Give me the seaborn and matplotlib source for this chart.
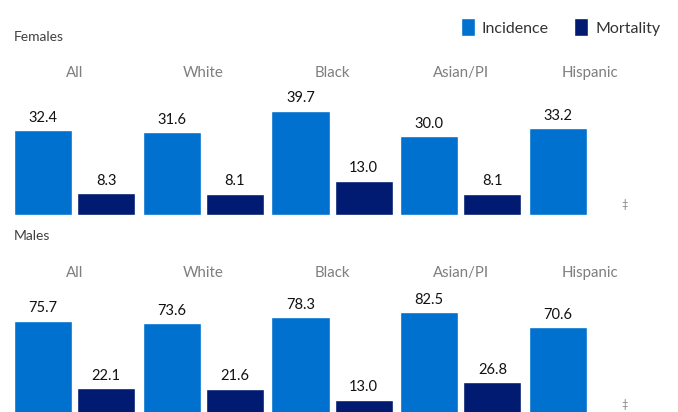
import pandas as pd
import seaborn as sns
import matplotlib.pyplot as plt
from matplotlib.patches import Patch
import numpy as np

# Rates per 100,000 by race/ethnicity
groups = ['All', 'White', 'Black', 'Asian/PI', 'Hispanic']
females_incidence = [32.4, 31.6, 39.7, 30.0, 33.2]
females_mortality = [8.3, 8.1, 13.0, 8.1, np.nan]
males_incidence = [75.7, 73.6, 78.3, 82.5, 70.6]
males_mortality = [22.1, 21.6, 13.0, 26.8, np.nan]
measures = ['Incidence', 'Mortality']

COLORS = {'Incidence': '#0071CE', 'Mortality': '#001B71'}
GRAY = '#7f7f7f'

sns.set_theme(style='white')
plt.rcParams['font.family'] = ['Lato', 'DejaVu Sans']


def make_df(inc, mort):
    return pd.DataFrame({
        'group': groups * 2,
        'measure': ['Incidence'] * len(groups) + ['Mortality'] * len(groups),
        'rate': list(inc) + list(mort),
    })


fig = plt.figure(figsize=(6.78, 4.12), dpi=100)

# [left, bottom, width, height] in figure fractions; ylim picked to match bar scale
panels = [
    ('Females', make_df(females_incidence, females_mortality), [0, 0.478, 1, 0.3155], 49.6, 0.91),
    ('Males', make_df(males_incidence, males_mortality), [0, -0.0097, 1, 0.318], 104, 0.427),
]

for title, df, rect, ymax, title_y in panels:
    ax = fig.add_axes(rect)
    sns.barplot(data=df, x='group', y='rate', hue='measure', order=groups,
                hue_order=measures, palette=COLORS, width=0.98, gap=0.08,
                legend=False, ax=ax, saturation=1)
    for c in ax.containers:
        ax.bar_label(c, fmt='%.1f', padding=4, fontsize=10.5, color='#111111')
    # suppressed value marker for Hispanic mortality
    ax.annotate('\u2021', xy=(4 + 0.98 / 4 + 0.03, 0), xytext=(0, 4),
                textcoords='offset points', ha='center', va='bottom',
                fontsize=8, color=GRAY)
    ax.set_xlim(-0.579, 4.687)
    ax.set_ylim(0, ymax)
    ax.xaxis.tick_top()
    ax.tick_params(axis='x', length=0, pad=3.5, labelsize=10.8, labelcolor=GRAY)
    ax.set_yticks([])
    ax.set_xlabel('')
    ax.set_ylabel('')
    for s in ax.spines.values():
        s.set_visible(False)
    ax.patch.set_alpha(0)
    fig.text(0.021, title_y, title, fontsize=10, color='#404040', va='center')

handles = [Patch(facecolor=COLORS[m], label=m) for m in measures]
fig.legend(handles=handles, loc='upper right', bbox_to_anchor=(0.995, 0.99),
           ncol=2, frameon=False, handlelength=0.85, handleheight=1.35,
           handletextpad=0.45, columnspacing=1.6, fontsize=11.5,
           labelcolor='#333333')

plt.savefig('out.png', dpi=100)
